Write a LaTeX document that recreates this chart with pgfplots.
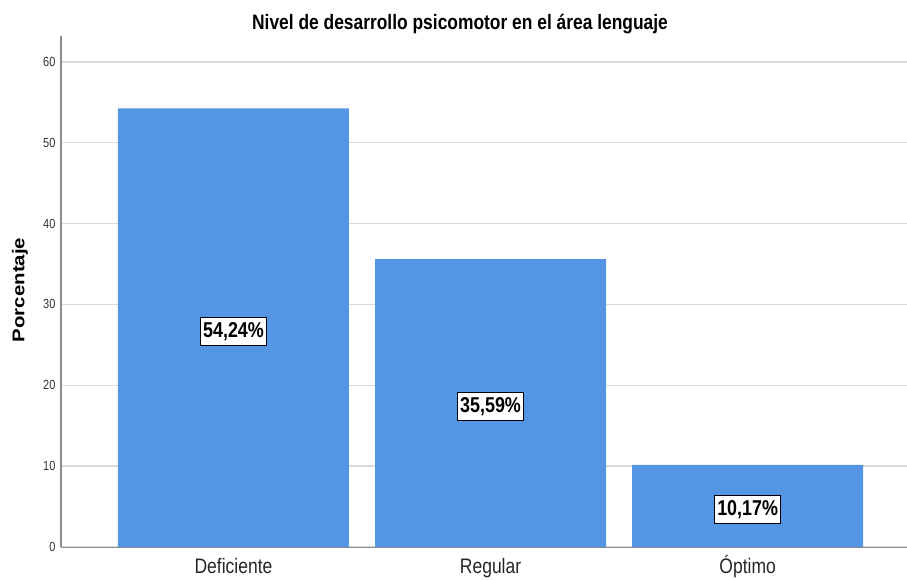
\documentclass[border=0pt]{standalone}
\usepackage{fontspec}
\setmainfont{Liberation Sans}
\usepackage{graphicx}
\usepackage{pgfplots}
\pgfplotsset{compat=1.18}
\definecolor{barblue}{RGB}{85,150,228}
\definecolor{gridgray}{RGB}{217,217,217}
\definecolor{axisgray}{RGB}{140,140,140}
\newcommand{\vs}[1]{\scalebox{1}[1.2]{#1}}
\begin{document}
\begin{tikzpicture}[x=1pt,y=1pt]
\path[use as bounding box] (0,0) rectangle (907,579);
\begin{axis}[
 at={(61pt,32pt)}, anchor=south west,
 scale only axis, width=846pt, height=511pt,
 xmin=-0.671, xmax=2.62, ymin=0, ymax=63.2,
 axis x line=bottom, axis y line=left,
 axis line style={draw=axisgray, line width=1pt, -},
 xtick={0,1,2}, xticklabels={\vs{Deficiente},\vs{Regular},\vs{Óptimo}},
 ytick={0,10,...,60},
 yticklabel={\vs{\pgfmathprintnumber{\tick}}},
 ymajorgrids, grid style={gridgray, line width=1.5pt},
 major tick length=0pt,
 yticklabel style={font=\fontsize{11}{13}\selectfont, text=black!80, xshift=-2pt},
 xticklabel style={font=\fontsize{17.5}{20}\selectfont, text=black!85, anchor=base, yshift=-26pt},
 /pgf/number format/assume math mode=true,
 clip=false,
]
\addplot[ybar, bar width=231pt, fill=barblue, draw=none] coordinates {(0,54.24) (1,35.59) (2,10.17)};
\addplot[draw=none, mark=none, nodes near coords={\vs{\pgfplotspointmeta}}, point meta=explicit symbolic,
  nodes near coords style={anchor=center, yshift=-3.5pt, draw=black, fill=white, line width=1pt,
  inner xsep=2.5pt, inner ysep=5pt, font=\fontsize{17.9}{20}\selectfont\bfseries, text=black}]
  coordinates {(0,27.12) [54,24\%] (1,17.795) [35,59\%] (2,5.085) [10,17\%]};
\end{axis}
\node[anchor=base] at (460,549) {\fontsize{17.4}{20}\selectfont\bfseries\vs{Nivel de desarrollo psicomotor en el área lenguaje}};
\node[rotate=90] at (20,289) {\fontsize{17}{20}\selectfont\bfseries\scalebox{1.2}[1]{Porcentaje}};
\end{tikzpicture}
\end{document}
